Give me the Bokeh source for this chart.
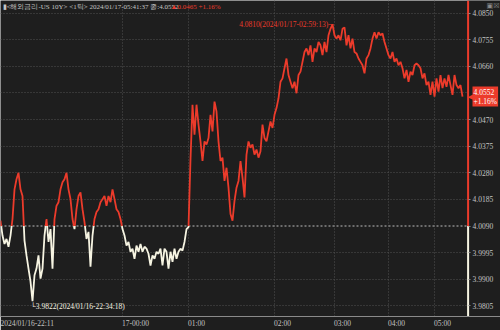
from bokeh.plotting import figure
from bokeh.models import Range1d, FixedTicker, Label, Span, NumeralTickFormatter, BoxAnnotation
from bokeh.embed import file_html
from bokeh.resources import INLINE

# ---- data ----
values = [
    4.0109, 4.0056, 4.0026, 4.0044, 4.0016, 4.0056, 4.0115, 4.0221, 4.0257, 4.0280,
    4.0221, 4.0197, 4.0038, 3.9985, 3.9938, 3.9892, 3.9822, 3.9914, 3.9938, 3.9985,
    3.9902, 3.9938, 4.0056, 4.0115, 4.0033, 4.0079, 3.9938, 4.0115, 4.0162, 4.0175,
    4.0221, 4.0246, 4.0257, 4.0280, 4.0221, 4.0186, 4.0115, 4.0079, 4.0150, 4.0197,
    4.0210, 4.0150, 4.0104, 4.0044, 4.0069, 3.9945, 4.0056, 4.0115, 4.0140, 4.0150,
    4.0175, 4.0186, 4.0197, 4.0162, 4.0197, 4.0175, 4.0221, 4.0186, 4.0150, 4.0140,
    4.0115, 4.0079, 4.0056, 4.0020, 4.0033, 3.9998, 4.0009, 3.9973, 4.0020, 3.9998,
    4.0026, 3.9998, 4.0016, 4.0009, 3.9991, 3.9949, 3.9985, 3.9973, 3.9998, 3.9991,
    4.0009, 3.9949, 4.0009, 3.9998, 3.9938, 3.9998, 3.9962, 4.0009, 3.9973, 3.9998,
    4.0009, 4.0002, 4.0033, 4.0079, 4.0086, 4.0328, 4.0523, 4.0416, 4.0523, 4.0452,
    4.0392, 4.0322, 4.0392, 4.0381, 4.0404, 4.0487, 4.0428, 4.0534, 4.0499, 4.0392,
    4.0322, 4.0334, 4.0251, 4.0298, 4.0227, 4.0133, 4.0109, 4.0180, 4.0227, 4.0251,
    4.0322, 4.0263, 4.0192, 4.0345, 4.0392, 4.0369, 4.0381, 4.0345, 4.0363, 4.0334,
    4.0357, 4.0452, 4.0404, 4.0392, 4.0428, 4.0463, 4.0440, 4.0487, 4.0511, 4.0546,
    4.0605, 4.0617, 4.0653, 4.0688, 4.0629, 4.0605, 4.0582, 4.0605, 4.0564, 4.0629,
    4.0641, 4.0676, 4.0711, 4.0724, 4.0700, 4.0735, 4.0676, 4.0724, 4.0711, 4.0747,
    4.0735, 4.0700, 4.0747, 4.0711, 4.0771, 4.0794, 4.0810, 4.0771, 4.0759, 4.0771,
    4.0753, 4.0794, 4.0799, 4.0735, 4.0771, 4.0724, 4.0759, 4.0711, 4.0706, 4.0688,
    4.0676, 4.0664, 4.0635, 4.0688, 4.0700, 4.0724, 4.0759, 4.0782, 4.0759, 4.0782,
    4.0771, 4.0777, 4.0747, 4.0724, 4.0700, 4.0688, 4.0711, 4.0676, 4.0688, 4.0664,
    4.0676, 4.0653, 4.0617, 4.0647, 4.0605, 4.0641, 4.0629, 4.0664, 4.0670, 4.0664,
    4.0653, 4.0617, 4.0635, 4.0593, 4.0605, 4.0558, 4.0605, 4.0552, 4.0617, 4.0570,
    4.0629, 4.0582, 4.0617, 4.0587, 4.0629, 4.0593, 4.0558, 4.0629, 4.0593, 4.0582,
    4.0593, 4.0552,
]
tick_index = [0, 61, 94, 137, 167, 194, 217]
tick_labels = ["2024/01/16-22:11", "17-00:00", "01:00", "02:00", "03:00", "04:00", "05:00"]
y_ticks = [3.9805, 3.9900, 3.9995, 4.0090, 4.0185, 4.0280, 4.0375, 4.0470,
           4.0660, 4.0755, 4.0850]
y_grid = [3.9805, 3.9900, 3.9995, 4.0185, 4.0280, 4.0375, 4.0470, 4.0565,
          4.0660, 4.0755, 4.0850]
prev_close = 4.0090
title_main = "▮<해외금리-US 10Y> <1틱> 2024/01/17-05:41:37 종:4.0552"
title_change = "▲0.0465 +1.16%"
change_pct = "+1.16%"
max_time = "2024/01/17-02:59:13"
min_time = "2024/01/16-22:34:18"

# ---- style ----
BG = "#1e1e1e"
RED = "#ec3b2b"
CREAM = "#f6f4e2"
TXT = "#c4c4c4"
FONT = "Liberation Sans Narrow"

n = len(values)
idx = list(range(n))
x_axis_at = n + 2          # where the price scale sits
x_end = x_axis_at + 16     # room for the price scale inside the frame
y_lo, y_hi = 3.9767, 4.0895

p = figure(width=500, height=330, output_backend="svg", toolbar_location=None,
           x_range=Range1d(0, x_end), y_range=Range1d(y_lo, y_hi),
           y_axis_location="right", min_border=0)
p.background_fill_color = BG
p.border_fill_color = BG
p.outline_line_color = None

# grid
p.xgrid.ticker = FixedTicker(ticks=tick_index[1:])
p.ygrid.ticker = FixedTicker(ticks=y_grid)
for g in (p.xgrid, p.ygrid):
    g.grid_line_color = "#505050"
    g.grid_line_dash = "1 2"
    g.grid_line_width = 1

p.add_layout(Span(location=prev_close, dimension="width", line_color="#bdbdbd",
                  line_dash="2 2", line_width=1, level="underlay"))
# price-scale strip hides the grid behind the labels
p.add_layout(BoxAnnotation(left=x_axis_at, right=x_end, fill_color=BG, fill_alpha=1,
                           line_color=None, level="underlay"))

# x axis: labels sit to the right of their tick, as in the original
label_pos = [t if i == 0 else t + round(len(l) * 1.6) / 2
             for i, (t, l) in enumerate(zip(tick_index, tick_labels))]
xa = p.xaxis[0]
xa.ticker = FixedTicker(ticks=label_pos)
xa.major_label_overrides = {t: l for t, l in zip(label_pos, tick_labels)}
xa.major_label_text_font = FONT
xa.major_label_text_font_size = "7.5px"
xa.major_label_text_color = TXT
xa.major_label_standoff = 2
xa.axis_line_color = "#8a8a8a"
xa.major_tick_line_color = None
xa.major_tick_out = 0
xa.major_tick_in = 0
xa.minor_tick_line_color = None

# price scale drawn at a fixed place inside the frame
ya = p.yaxis[0]
ya.fixed_location = x_axis_at
ya.ticker = FixedTicker(ticks=y_ticks)
ya.formatter = NumeralTickFormatter(format="0.0000")
ya.major_label_text_font = FONT
ya.major_label_text_font_size = "7.5px"
ya.major_label_text_color = TXT
ya.major_label_standoff = 2
ya.axis_line_color = None
ya.major_tick_line_color = "#8a8a8a"
ya.major_tick_out = 2
ya.major_tick_in = 0
ya.minor_tick_line_color = None

# split the series at the previous close
red_lines, white_lines = [], []
side = values[0] >= prev_close
cur = [(idx[0], values[0])]
for k in range(1, n):
    s = values[k] >= prev_close
    if s == side:
        cur.append((idx[k], values[k]))
    else:
        x0, y0, x1, y1 = idx[k - 1], values[k - 1], idx[k], values[k]
        xm = x0 + (prev_close - y0) / (y1 - y0) * (x1 - x0)
        cur.append((xm, prev_close))
        (red_lines if side else white_lines).append(cur)
        cur = [(xm, prev_close), (x1, y1)]
        side = s
(red_lines if side else white_lines).append(cur)

p.multi_line(xs=[[q[0] for q in l] for l in white_lines],
             ys=[[q[1] for q in l] for l in white_lines],
             line_color=CREAM, line_width=1.8)
p.multi_line(xs=[[q[0] for q in l] for l in red_lines],
             ys=[[q[1] for q in l] for l in red_lines],
             line_color=RED, line_width=1.8)

# price-scale line (red above previous close, cream below)
xe = x_axis_at - 0.2
p.segment(x0=[xe, xe], y0=[prev_close, prev_close], x1=[xe, xe], y1=[y_hi, y_lo],
          line_color=[RED, CREAM], line_width=2)

# max / min annotations
imax = max(idx, key=lambda i: values[i])
imin = min(idx, key=lambda i: values[i])
p.add_layout(Label(x=imax, y=values[imax], text=f"{values[imax]:.4f}({max_time})─",
                   text_align="right", text_baseline="middle", x_offset=1,
                   text_font=FONT, text_font_size="7.5px", text_color=RED))
p.add_layout(Label(x=imin, y=values[imin], text=f"└{values[imin]:.4f}({min_time})",
                   text_align="left", text_baseline="top", x_offset=-2, y_offset=-1,
                   text_font=FONT, text_font_size="7.5px", text_color=CREAM))

# title
p.add_layout(Label(x=0, y=y_hi, text=title_main, text_align="left", text_baseline="top",
                   x_offset=2, y_offset=-2, text_font=FONT, text_font_size="7px",
                   text_color=TXT))
p.add_layout(Label(x=0, y=y_hi, text=title_change, text_align="left", text_baseline="top",
                   x_offset=170, y_offset=-2, text_font=FONT, text_font_size="7px",
                   text_color=RED))

# small window buttons, top right
p.add_layout(Label(x=x_end, y=y_hi, text="▣☒", text_align="right", text_baseline="top",
                   x_offset=-1, y_offset=-1, text_font="DejaVu Sans", text_font_size="7px",
                   text_color="#8c8c8c"))

# current value tag
last = values[-1]
p.add_layout(Label(x=x_axis_at, y=last, text="◀", text_align="left", text_baseline="middle",
                   x_offset=-1, text_font="DejaVu Sans", text_font_size="7px",
                   text_color=RED))
p.add_layout(Label(x=x_axis_at, y=last, text=f"{last:.4f}\n{change_pct}", text_align="left",
                   text_baseline="middle", x_offset=4, text_font=FONT,
                   text_font_size="7.5px", text_line_height=1.0, text_color="#ffffff",
                   background_fill_color=RED, padding=1))

open("out.html", "w").write(file_html(p, INLINE))
